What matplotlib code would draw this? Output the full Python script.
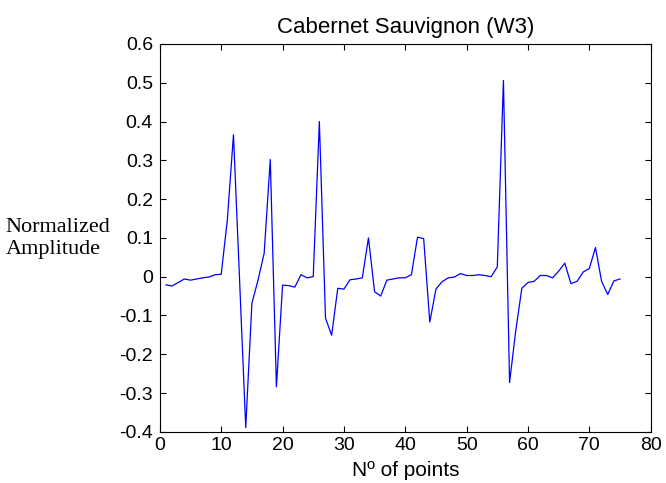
import numpy as np
import matplotlib
matplotlib.use("Agg")
import matplotlib.pyplot as plt
from matplotlib.ticker import FuncFormatter

# Normalized amplitude per point
points = np.arange(1, 76)
amplitude = [
    -0.021, -0.024, -0.015, -0.006, -0.009, -0.006, -0.003, -0.001, 0.005, 0.006,
    0.146, 0.366, -0.010, -0.389, -0.069, -0.009, 0.060, 0.302, -0.284, -0.022,
    -0.023, -0.027, 0.005, -0.003, 0.000, 0.400, -0.107, -0.151, -0.030, -0.032,
    -0.008, -0.006, -0.003, 0.100, -0.039, -0.050, -0.009, -0.006, -0.003, -0.003,
    0.005, 0.102, 0.098, -0.117, -0.032, -0.013, -0.003, -0.001, 0.008, 0.003,
    0.003, 0.005, 0.003, 0.000, 0.025, 0.506, -0.273, -0.140, -0.030, -0.015,
    -0.012, 0.003, 0.003, -0.003, 0.014, 0.035, -0.018, -0.012, 0.012, 0.021,
    0.075, -0.012, -0.046, -0.011, -0.006,
]

xticks = np.arange(0, 81, 10)
yticks = np.round(np.arange(-0.4, 0.61, 0.1), 1)

plt.rcParams["font.family"] = ["Liberation Sans", "DejaVu Sans"]

fig = plt.figure(figsize=(6.66, 4.83), dpi=100)
ax = fig.add_axes([0.240, 0.106, 0.737, 0.803])

ax.plot(points, amplitude, color="#0000ff", linewidth=0.9)

ax.set_xlim(0, 80)
ax.set_ylim(-0.4, 0.6)
ax.set_xticks(xticks)
ax.set_yticks(yticks)
ax.yaxis.set_major_formatter(FuncFormatter(lambda v, p: "%g" % (round(v, 1) + 0.0)))
ax.tick_params(direction="in", top=True, right=True, labelsize=14, length=4)
ax.tick_params(axis="y", pad=5)
ax.tick_params(axis="x", pad=4)
for s in ax.spines.values():
    s.set_linewidth(0.8)

ax.set_title("Cabernet Sauvignon (W3)", fontsize=16, pad=8)
ax.set_xlabel("N\u00ba of points", fontsize=15, labelpad=5)
fig.text(0.008, 0.507, "Normalized\nAmplitude", family=["Liberation Serif", "DejaVu Serif"],
         fontsize=16, ha="left", va="center", linespacing=1.2)

fig.savefig("out.png", dpi=100)
